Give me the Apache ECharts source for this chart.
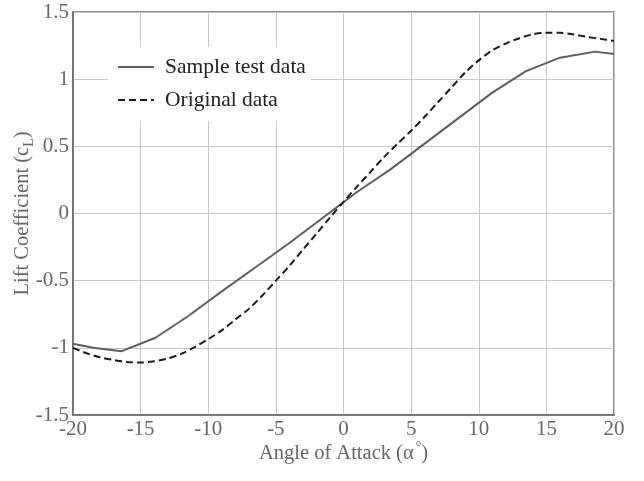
<!DOCTYPE html>
<html><head><meta charset="utf-8">
<script src="https://cdn.jsdelivr.net/npm/echarts@6/dist/echarts.min.js"></script>
<style>html,body{margin:0;padding:0;background:#fff}#c{width:644px;height:481px}</style>
</head><body><div id="c"></div>
<script>
const seriesNames = ['Sample test data', 'Original data'];
const sampleAlpha = [-20, -18.5, -16.4, -13.9, -11.5, -9, -6.5, -4, -1.5, 1, 3.5, 6, 8.5, 11, 13.5, 16, 18.6, 20];
const sampleCL = [-0.97, -1.0, -1.025, -0.925, -0.765, -0.58, -0.40, -0.22, -0.03, 0.16, 0.33, 0.52, 0.71, 0.90, 1.06, 1.16, 1.205, 1.187];
const origAlpha = [-20, -19, -18, -17, -16, -15, -14, -13, -12, -11, -10, -9, -8, -7, -6, -5, -4, -3, -2, -1, 0, 1, 2, 3, 4, 5, 6, 7, 8, 9, 10, 11, 12, 13, 14, 15, 16, 17, 18, 19, 20];
const origCL = [-1.0, -1.04, -1.07, -1.09, -1.105, -1.11, -1.10, -1.08, -1.045, -0.995, -0.935, -0.87, -0.79, -0.71, -0.61, -0.50, -0.39, -0.27, -0.15, -0.03, 0.087, 0.20, 0.31, 0.42, 0.52, 0.616, 0.72, 0.83, 0.94, 1.05, 1.14, 1.215, 1.265, 1.305, 1.335, 1.345, 1.345, 1.333, 1.315, 1.30, 1.285];
const xTickRange = [-20, 20, 5];
const yTickRange = [-1.5, 1.5, 0.5];

const FONT = '"Liberation Serif", "DejaVu Serif", serif';
const TXT = '#666';
const chart = echarts.init(document.getElementById('c'), null, {renderer: 'canvas'});
const zip = (a, b) => a.map((v, i) => [v, b[i]]);
chart.setOption({
  animation: false,
  backgroundColor: '#fff',
  grid: {left: 73, right: 30, top: 12, bottom: 66, show: true, borderColor: '#666', borderWidth: 1.5,
         containLabel: false, outerBoundsMode: 'none'},
  legend: {
    show: true, orient: 'vertical', left: 108, top: 47, z: 10,
    backgroundColor: '#fff', padding: [9, 5, 10, 9],
    itemWidth: 36, itemHeight: 14, itemGap: 11,
    itemStyle: {opacity: 0},
    textStyle: {fontFamily: FONT, fontSize: 21.5, color: '#222', padding: [0, 0, 0, 6]},
    data: seriesNames
  },
  xAxis: {
    type: 'value', min: xTickRange[0], max: xTickRange[1], interval: xTickRange[2],
    name: 'Angle of Attack (α{sup|°})', nameLocation: 'middle', nameGap: 25, nameMoveOverlap: false,
    nameTextStyle: {fontFamily: FONT, fontSize: 20.5, color: TXT,
      rich: {sup: {fontFamily: FONT, fontSize: 14, color: TXT, padding: [0, 0, 14, 2]}}},
    axisLine: {show: true, onZero: false, lineStyle: {color: '#666', width: 1.5}},
    axisTick: {show: false},
    axisLabel: {fontFamily: FONT, fontSize: 21, color: TXT, margin: 4},
    splitLine: {show: true, lineStyle: {color: '#c8c8c8', width: 1}}
  },
  yAxis: {
    type: 'value', min: yTickRange[0], max: yTickRange[1], interval: yTickRange[2],
    name: 'Lift Coefficient (c{sub|L})', nameLocation: 'middle', nameGap: 37, nameMoveOverlap: false,
    nameTextStyle: {fontFamily: FONT, fontSize: 20.5, color: TXT,
      rich: {sub: {fontFamily: FONT, fontSize: 14, color: TXT, padding: [12, 0, 0, 0]}}},
    axisLine: {show: true, onZero: false, lineStyle: {color: '#666', width: 1.5}},
    axisTick: {show: false},
    axisLabel: {fontFamily: FONT, fontSize: 21, color: TXT, margin: 4},
    splitLine: {show: true, lineStyle: {color: '#c8c8c8', width: 1}}
  },
  series: [
    {name: seriesNames[0], type: 'line', data: zip(sampleAlpha, sampleCL), showSymbol: false, symbol: 'none',
     lineStyle: {color: '#5e5e5e', width: 2}, itemStyle: {color: '#5e5e5e'}},
    {name: seriesNames[1], type: 'line', data: zip(origAlpha, origCL), showSymbol: false, symbol: 'none', smooth: 0.3,
     lineStyle: {color: '#1a1a1a', width: 2, type: [7, 4]}, itemStyle: {color: '#1a1a1a'}}
  ]
});
</script></body></html>
